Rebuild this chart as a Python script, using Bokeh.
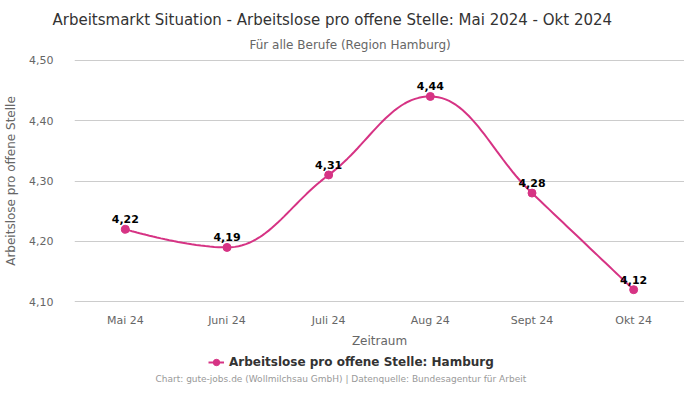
from bokeh.plotting import figure
from bokeh.layouts import column
from bokeh.models import (ColumnDataSource, Label, LabelSet, FixedTicker, Legend, LegendItem, Range1d, Title)
from bokeh.core.properties import value
from bokeh.embed import file_html
from bokeh.resources import INLINE

months = ["Mai 24", "Juni 24", "Juli 24", "Aug 24", "Sept 24", "Okt 24"]
values = [4.22, 4.19, 4.31, 4.44, 4.28, 4.12]
y_ticks = [4.10, 4.20, 4.30, 4.40, 4.50]
title = "Arbeitsmarkt Situation - Arbeitslose pro offene Stelle: Mai 2024 - Okt 2024"
subtitle = "Für alle Berufe (Region Hamburg)"
series_name = "Arbeitslose pro offene Stelle: Hamburg"
footer = "Chart: gute-jobs.de (Wollmilchsau GmbH) | Datenquelle: Bundesagentur für Arbeit"

COLOR = "#d63384"
FONT = "DejaVu Sans"
W, H = 684, 350
H2 = 34
ML, MR, MT, MB = 74, 0, 59, 47

xs = list(range(len(values)))


def spline(xv, yv, smoothing=1.5, steps=30):
    n = len(xv)
    lc = [None] * n
    rc = [None] * n
    for i in range(1, n - 1):
        px, py = xv[i], yv[i]
        lx, ly = xv[i - 1], yv[i - 1]
        nx, ny = xv[i + 1], yv[i + 1]
        d = smoothing + 1
        lcx = (smoothing * px + lx) / d
        lcy = (smoothing * py + ly) / d
        rcx = (smoothing * px + nx) / d
        rcy = (smoothing * py + ny) / d
        corr = ((rcy - lcy) * (rcx - px)) / (rcx - lcx) + py - rcy
        lcy += corr
        rcy += corr
        if lcy > ly and lcy > py:
            lcy = max(ly, py); rcy = 2 * py - lcy
        elif lcy < ly and lcy < py:
            lcy = min(ly, py); rcy = 2 * py - lcy
        if rcy > ny and rcy > py:
            rcy = max(ny, py); lcy = 2 * py - rcy
        elif rcy < ny and rcy < py:
            rcy = min(ny, py); lcy = 2 * py - rcy
        lc[i] = (lcx, lcy)
        rc[i] = (rcx, rcy)
    outx, outy = [xv[0]], [yv[0]]
    for i in range(1, n):
        p0 = (xv[i - 1], yv[i - 1])
        p1 = rc[i - 1] or p0
        p3 = (xv[i], yv[i])
        p2 = lc[i] or p3
        for s in range(1, steps + 1):
            t = s / steps
            a = (1 - t) ** 3; b = 3 * (1 - t) ** 2 * t; c = 3 * (1 - t) * t ** 2; e = t ** 3
            outx.append(a * p0[0] + b * p1[0] + c * p2[0] + e * p3[0])
            outy.append(a * p0[1] + b * p1[1] + c * p2[1] + e * p3[1])
    return outx, outy


cx, cy = spline(xs, values)

pad = (y_ticks[-1] - y_ticks[0]) * 0.003
p = figure(width=W, height=H, output_backend="svg", toolbar_location=None,
           x_range=Range1d(-0.5, len(months) - 0.5), y_range=Range1d(y_ticks[0] - pad, y_ticks[-1] + pad),
           min_border_left=ML, min_border_right=MR, min_border_top=MT, min_border_bottom=MB)
p.outline_line_color = None
p.background_fill_color = "white"
p.border_fill_color = "white"

p.title.text = title
p.title.text_font = FONT
p.title.text_font_size = "15px"
p.title.text_font_style = "normal"
p.title.text_color = "#333333"
p.title.align = "left"
p.title.offset = -22
p.title.standoff = 0
p.add_layout(Title(text=subtitle, text_font=FONT, text_font_size="12px", text_font_style="normal",
                   text_color="#666666", align="left", offset=175, standoff=15), "above")

line_r = p.line(cx, cy, line_color=COLOR, line_width=2)
src = ColumnDataSource(dict(x=xs, y=values, lab=[f"{v:.2f}".replace(".", ",") for v in values]))
pt_r = p.scatter("x", "y", source=src, size=8, fill_color=COLOR, line_color=COLOR)

p.add_layout(LabelSet(x="x", y="y", text="lab", source=src, y_offset=6, text_align="center",
                      text_baseline="bottom", text_font=value(FONT), text_font_size=value("11px"),
                      text_font_style="bold", text_color="black"))

p.xaxis.ticker = FixedTicker(ticks=xs)
p.xaxis.major_label_overrides = {i: m for i, m in enumerate(months)}
p.yaxis.ticker = FixedTicker(ticks=y_ticks)
p.yaxis.major_label_overrides = {t: f"{t:.2f}".replace(".", ",") for t in y_ticks}
for ax in (p.xaxis, p.yaxis):
    ax.axis_line_color = None
    ax.major_tick_line_color = None
    ax.minor_tick_line_color = None
    ax.major_label_text_font = FONT
    ax.major_label_text_font_size = "11px"
    ax.major_label_text_color = "#666666"
    ax.axis_label_text_font = FONT
    ax.axis_label_text_font_size = "12px"
    ax.axis_label_text_color = "#666666"
    ax.axis_label_text_font_style = "normal"
p.xaxis.axis_label = "Zeitraum"
p.yaxis.axis_label = "Arbeitslose pro offene Stelle"
p.xaxis.major_label_standoff = 5
p.yaxis.major_label_standoff = 15
p.xaxis.axis_label_standoff = 4
p.yaxis.axis_label_standoff = 8
p.xgrid.grid_line_color = None
p.ygrid.grid_line_color = "#cccccc"
p.ygrid.grid_line_width = 1

# bottom strip: legend + source note (frame aligned with the main plot's frame)
p2 = figure(width=W, height=H2, output_backend="svg", toolbar_location=None,
            x_range=Range1d(0, 1), y_range=Range1d(0, 1), x_axis_type=None, y_axis_type=None,
            min_border=0, min_border_left=0, min_border_right=0, min_border_top=0, min_border_bottom=0)
p2.outline_line_color = None
p2.border_fill_color = "white"
p2.background_fill_color = "white"
nan = float("nan")
leg_line = p2.line(x=[nan], y=[nan], line_color=COLOR, line_width=2)
leg_pt = p2.scatter(x=[nan], y=[nan], size=8, fill_color=COLOR, line_color=COLOR)
legend = Legend(items=[LegendItem(label=series_name, renderers=[leg_line, leg_pt])],
                location=(208 - ML, H2 - 12 - 8), orientation="horizontal",
                label_text_font=FONT, label_text_font_size="12px", label_text_font_style="bold",
                label_text_color="#333333", glyph_width=16, glyph_height=16, label_standoff=5,
                padding=0, margin=0, background_fill_alpha=0, border_line_alpha=0)
p2.add_layout(legend, "center")
p2.add_layout(Label(x=155 - ML, y=H2 - 28, x_units="screen", y_units="screen", text=footer,
                    text_font=FONT, text_font_size="9px", text_color="#999999",
                    text_align="left", text_baseline="middle"))

layout = column(p, p2, spacing=0)
open("out.html", "w").write(file_html(layout, INLINE))
